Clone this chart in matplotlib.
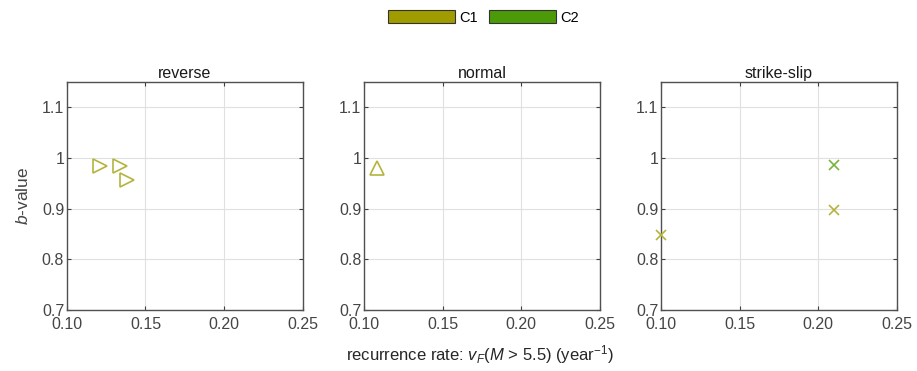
import matplotlib
matplotlib.use("Agg")
import matplotlib.pyplot as plt
from matplotlib.patches import Patch

plt.rcParams['font.family'] = ['Liberation Sans', 'DejaVu Sans']
plt.rcParams['mathtext.fontset'] = 'custom'
plt.rcParams['mathtext.rm'] = 'Liberation Sans'
plt.rcParams['mathtext.it'] = 'Liberation Sans:italic'

panels = ['reverse', 'normal', 'strike-slip']
groups = ['C1', 'C2']
legend_colors = {'C1': '#a09c00', 'C2': '#4c9a08'}
marker_colors = {'C1': '#b4b43c', 'C2': '#78b43c'}
panel_markers = {'reverse': '>', 'normal': '^', 'strike-slip': 'x'}

# data per panel: group -> (x, y)
reverse_C1_x = [0.121, 0.134, 0.138]
reverse_C1_y = [0.984, 0.984, 0.957]
normal_C1_x = [0.108]
normal_C1_y = [0.980]
strike_C1_x = [0.100, 0.210]
strike_C1_y = [0.849, 0.897]
strike_C2_x = [0.210]
strike_C2_y = [0.987]

data = {
    'reverse': {'C1': (reverse_C1_x, reverse_C1_y)},
    'normal': {'C1': (normal_C1_x, normal_C1_y)},
    'strike-slip': {'C1': (strike_C1_x, strike_C1_y), 'C2': (strike_C2_x, strike_C2_y)},
}

xticks = [0.10, 0.15, 0.20, 0.25]
xticklabels = ['0.10', '0.15', '0.20', '0.25']
yticks = [0.7, 0.8, 0.9, 1.0, 1.1]
yticklabels = ['0.7', '0.8', '0.9', '1', '1.1']

fig = plt.figure(figsize=(9.17, 3.71), dpi=100)
lefts = [0.073, 0.397, 0.721]
txtc = '#454545'
for i, name in enumerate(panels):
    ax = fig.add_axes([lefts[i], 0.164, 0.257, 0.615])
    for g, (xs, ys) in data[name].items():
        m = panel_markers[name]
        if m == 'x':
            ax.plot(xs, ys, linestyle='none', marker='x', markersize=7,
                    markeredgewidth=1.2, color=marker_colors[g], clip_on=False, zorder=3)
        else:
            ax.plot(xs, ys, linestyle='none', marker=m, markersize=10,
                    markerfacecolor='none', markeredgewidth=1.2,
                    markeredgecolor=marker_colors[g], clip_on=False, zorder=3)
    ax.set_xlim(0.10, 0.25)
    ax.set_ylim(0.7, 1.15)
    ax.set_xticks(xticks)
    ax.set_xticklabels(xticklabels)
    ax.set_yticks(yticks)
    ax.set_yticklabels(yticklabels)
    ax.grid(True, color='#e0e0e0', linewidth=0.8)
    ax.set_axisbelow(True)
    ax.tick_params(direction='in', top=True, right=True, length=3,
                   labelsize=11.5, colors='#404040', labelcolor=txtc, pad=2)
    ax.tick_params(axis='x', pad=5)
    for s in ax.spines.values():
        s.set_color('#505050')
        s.set_linewidth(1.0)
    ax.set_title(name, fontsize=11.5, color='#1a1a1a', pad=3)
    if i == 0:
        ax.set_ylabel('$b$-value', fontsize=12.5, color=txtc, labelpad=8)

handles = [Patch(facecolor=legend_colors[g], edgecolor='#333333', linewidth=0.8, label=g) for g in groups]
fig.legend(handles=handles, loc='center', bbox_to_anchor=(0.527, 0.953), ncol=2,
           frameon=False, fontsize=10.5, handlelength=4.6, handleheight=0.95,
           handletextpad=0.25, columnspacing=0.8)

fig.text(0.523, 0.043, r'recurrence rate: $v_F$($M$ > 5.5) (year$^{-1}$)',
         ha='center', va='center', fontsize=12, color='#262626')

fig.savefig('out.png', dpi=100)
